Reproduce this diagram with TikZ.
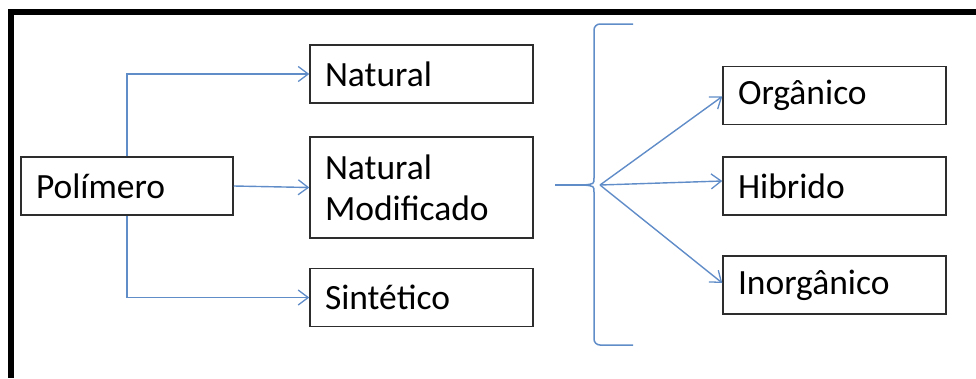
\documentclass[tikz,border=0pt]{standalone}
\usepackage{fontspec}
\setmainfont{Carlito}
\usetikzlibrary{arrows.meta,calc}
\definecolor{lineblue}{RGB}{96,140,200}
\definecolor{boxgray}{RGB}{45,45,45}
\tikzset{
  box/.style={draw=boxgray, line width=1.5pt, fill=white, inner xsep=15pt, inner ysep=0pt,
    align=left, font=\fontsize{35.5}{42}\selectfont},
  narrowbox/.style={box, text width=182pt, minimum height=58pt},
  widebox/.style={box, text width=193pt, minimum height=58pt},
  link/.style={draw=lineblue, line width=1.4pt, -{Straight Barb[length=10pt,width=15pt,line width=1.3pt]}},
  bracepath/.style={draw=lineblue, line width=1.5pt},
}
\begin{document}
\begin{tikzpicture}[x=1pt,y=-1pt]
\useasboundingbox (0,0) rectangle (976,378);
% frame
\fill[black] (8,9) rectangle (976,15);
\fill[black] (8,9) rectangle (14,378);
% left column
\node[narrowbox] (pol) at (127,186) {Polímero};
% middle column
\node[widebox] (nat) at (421.5,74) {Natural};
\node[widebox, minimum height=101pt] (natmod) at (421.5,187.5) {Natural\\[-1pt]Modificado\\[-6pt]};
\node[widebox] (sin) at (421.5,297.5) {Sintético};
% right column
\node[widebox] (org) at (834.5,95.5) {Orgânico};
\node[widebox] (hib) at (834.5,186) {Hibrido};
\node[widebox] (inorg) at (834.5,285) {Inorgânico};
% connectors from Polímero
\draw[link] (pol.north) |- (nat.west);
\draw[link] (pol.east) -- (natmod.west);
\draw[link] (pol.south) |- (sin.west);
% brace
\coordinate (bracetip) at (584,185);
\coordinate (leadin) at (555,185);
\coordinate (fan) at (600,185);
\draw[bracepath, rounded corners=6pt] (633,24) -- (594,24) -- (594,178);
\draw[bracepath] (594,178) .. controls (594,184) .. (bracetip);
\draw[bracepath] (bracetip) .. controls (594,186) .. (594,192);
\draw[bracepath, rounded corners=6pt] (594,192) -- (594,345) -- (633,345);
\draw[bracepath] (leadin) -- (bracetip);
% connectors from brace
\draw[link] (fan) -- ($(org.west)+(0,1)$);
\draw[link] (fan) -- ($(hib.west)+(0,-5)$);
\draw[link] (fan) -- ($(inorg.west)+(0,-2)$);
\end{tikzpicture}
\end{document}
